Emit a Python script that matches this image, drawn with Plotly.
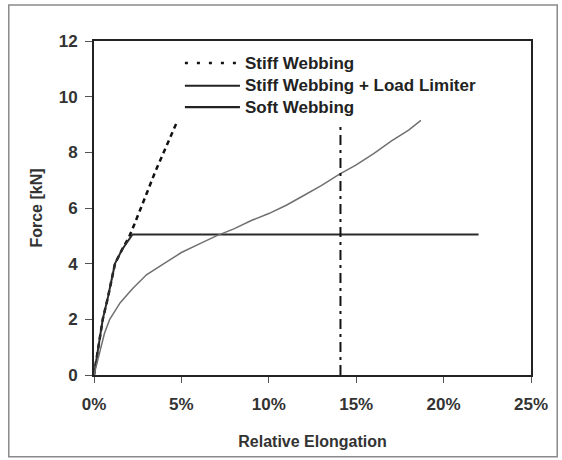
import plotly.graph_objects as go

# Force–elongation curves for three belt webbing variants
stiff_x = [0, 0.25, 0.5, 0.8, 1.2, 1.6, 2.0, 2.3, 2.6, 3.0, 3.5, 4.0, 4.4, 4.75]
stiff_y = [0, 1.0, 2.0, 2.8, 4.0, 4.5, 4.95, 5.4, 5.9, 6.5, 7.3, 8.0, 8.6, 9.1]

limiter_x = [0, 0.25, 0.5, 0.8, 1.2, 1.6, 2.0, 2.2, 22.0]
limiter_y = [0, 1.0, 2.0, 2.8, 4.0, 4.5, 4.9, 5.05, 5.05]

soft_x = [0, 0.3, 0.6, 0.9, 1.5, 2.2, 3.0, 4.0, 5.0, 6.0, 7.0, 8.0, 9.0,
          10.0, 11.0, 12.0, 13.0, 14.0, 15.0, 16.0, 17.0, 18.0, 18.7]
soft_y = [0, 0.8, 1.5, 2.0, 2.6, 3.1, 3.6, 4.0, 4.4, 4.7, 5.0, 5.25, 5.55,
          5.8, 6.1, 6.45, 6.8, 7.2, 7.55, 7.95, 8.4, 8.8, 9.15]

marker_x = [14.1, 14.1]
marker_y = [0, 9.0]

x_ticks = [0, 5, 10, 15, 20, 25]
x_ticklabels = ["0%", "5%", "10%", "15%", "20%", "25%"]
y_ticks = [0, 2, 4, 6, 8, 10, 12]

legend_names = ["Stiff Webbing", "Stiff Webbing + Load Limiter", "Soft Webbing"]
legend_styles = [
    dict(color="#111111", width=2.5, dash="3px,9px"),
    dict(color="#222222", width=2.2),
    dict(color="#222222", width=2.2),
]

FONT = "Arial, Liberation Sans, sans-serif"
BOLD = dict(family=FONT, color="#333333", weight="bold")

fig = go.Figure()
fig.add_trace(go.Scatter(x=stiff_x, y=stiff_y, mode="lines", name=legend_names[0],
                         line=dict(color="#111111", width=2.5, dash="5px,4px")))
fig.add_trace(go.Scatter(x=limiter_x, y=limiter_y, mode="lines", name=legend_names[1],
                         line=dict(color="#2a2a2a", width=2)))
fig.add_trace(go.Scatter(x=soft_x, y=soft_y, mode="lines", name=legend_names[2],
                         line=dict(color="#707070", width=1.5)))
fig.add_trace(go.Scatter(x=marker_x, y=marker_y, mode="lines",
                         line=dict(color="#111111", width=2, dash="10px,5px,3px,5px")))

# hand-built legend with long line samples
row_y = [0.934, 0.866, 0.802]
for name, style, yy in zip(legend_names, legend_styles, row_y):
    fig.add_shape(type="line", xref="paper", yref="paper",
                  x0=0.208, x1=0.334, y0=yy, y1=yy, line=style)
    fig.add_annotation(xref="paper", yref="paper", x=0.340, y=yy,
                       xanchor="left", yanchor="middle", showarrow=False,
                       text=name, font=dict(BOLD, size=17, color="#222222"))

# outer frame around the whole chart
fig.add_shape(type="rect", xref="paper", yref="paper",
              x0=-0.195, x1=1.06, y0=-0.245, y1=1.108,
              line=dict(color="#8a8a8a", width=1.5), layer="below")

fig.update_layout(
    width=562, height=460,
    margin=dict(l=94, r=31, t=41, b=85),
    paper_bgcolor="white", plot_bgcolor="white",
    font=dict(family=FONT, color="#333333"),
    showlegend=False,
    xaxis=dict(range=[0, 25], tickvals=x_ticks, ticktext=x_ticklabels,
               showgrid=False, zeroline=False,
               showline=True, linecolor="#222222", linewidth=2, mirror=True,
               ticks="outside", ticklen=6, tickcolor="#555555", tickwidth=1,
               ticklabelstandoff=7,
               tickfont=dict(BOLD, size=17),
               title=dict(text="Relative Elongation", standoff=22,
                          font=dict(BOLD, size=16))),
    yaxis=dict(range=[0, 12], tickvals=y_ticks,
               showgrid=False, zeroline=False,
               showline=True, linecolor="#222222", linewidth=2, mirror=True,
               ticks="outside", ticklen=7, tickcolor="#555555", tickwidth=1,
               ticklabelstandoff=4,
               tickfont=dict(BOLD, size=17),
               title=dict(text="Force [kN]", standoff=12,
                          font=dict(BOLD, size=16))),
)

fig.write_html("out.html")
